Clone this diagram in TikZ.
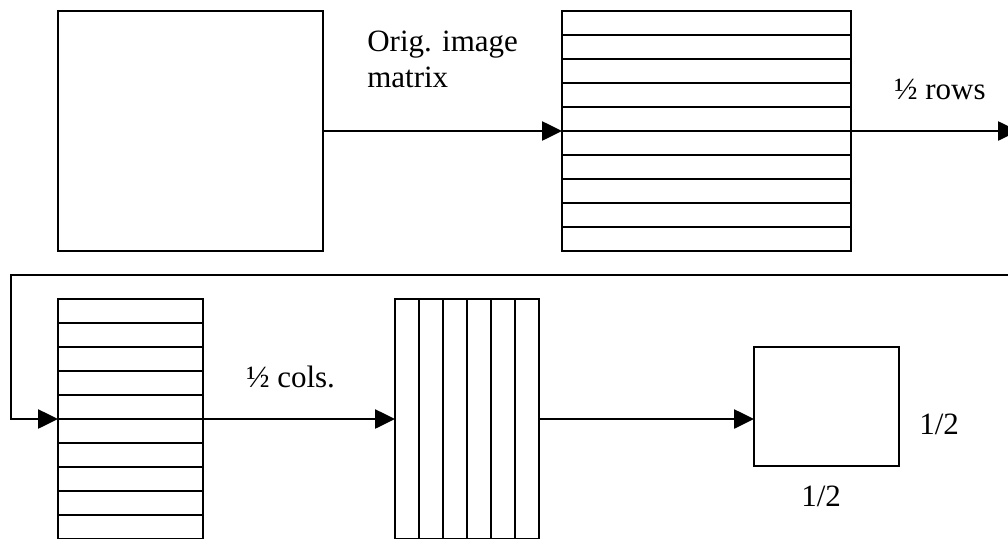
\documentclass[tikz,border=0pt]{standalone}
\usepackage{fontspec}
\setmainfont{Liberation Serif}
\usetikzlibrary{arrows.meta}
\begin{document}
\begin{tikzpicture}[x=1pt,y=-1pt,
  line width=2.6pt,
  box/.style={draw, line width=2.6pt, inner sep=0pt, outer sep=0pt, anchor=north west},
  arr/.style={-{Triangle[length=20pt,width=19pt]}},
  lbl/.style={font=\fontsize{31}{36}\selectfont, anchor=base west, inner sep=0pt, align=left}]
\useasboundingbox (0,0) rectangle (1008,538);
% boxes
\node[box, minimum width=265pt, minimum height=240pt] (A) at (58,11) {};
\node[box, minimum width=289pt, minimum height=240pt] (B) at (562,11) {};
\node[box, minimum width=145pt, minimum height=240pt] (C) at (58,299) {};
\node[box, minimum width=144pt, minimum height=240pt] (D) at (395,299) {};
\node[box, minimum width=145pt, minimum height=119pt] (E) at (754,347) {};
% stripes
\foreach \i in {1,...,9} {
  \draw ([yshift=-\i*24pt]B.north west) -- ([yshift=-\i*24pt]B.north east);
  \draw ([yshift=-\i*24pt]C.north west) -- ([yshift=-\i*24pt]C.north east);
}
\foreach \i in {1,...,5} {
  \draw ([xshift=\i*24pt]D.north west) -- ([xshift=\i*24pt]D.south west);
}
% free ends
\coordinate (out) at (1018,131);
\coordinate (back) at (1012,275);
\coordinate (turn) at (11,275);
% connectors
\draw[arr] (A.east) -- (B.west);
\draw[arr] (B.east) -- (out);
\draw[arr] (back) -- (turn) |- (C.west);
\draw[arr] (C.east) -- (D.west);
\draw[arr] (D.east) -- (D.east -| E.west);
% labels
\node[lbl] (t1) at (366,87) {Orig. image\\matrix};
\node[lbl] (t2) at (893,99) {½ rows};
\node[lbl] (t3) at (245,387) {½ cols.};
\node[lbl] (t4) at (918,434) {1/2};
\node[lbl] (t5) at (800,506) {1/2};
\end{tikzpicture}
\end{document}
